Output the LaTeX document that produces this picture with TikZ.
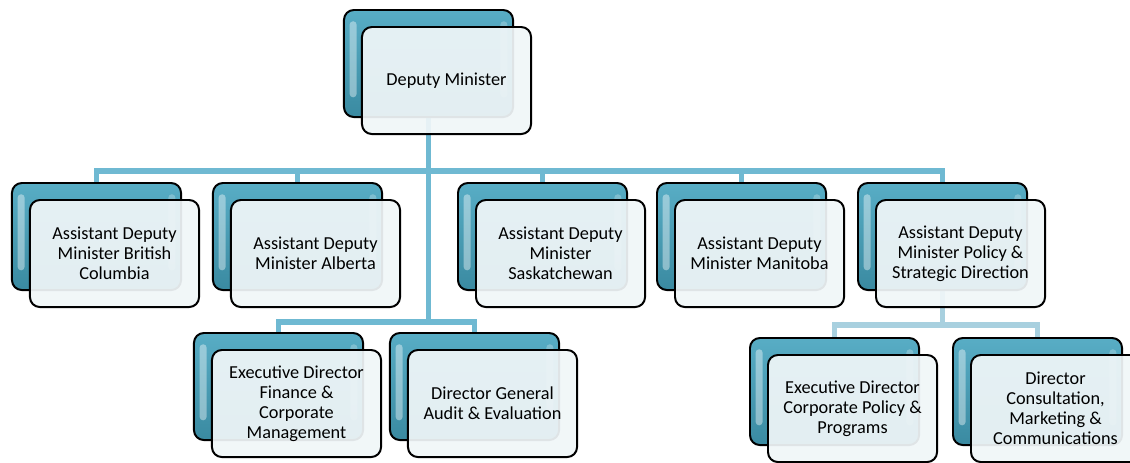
\documentclass[tikz,border=0pt]{standalone}
\usepackage{fontspec}
\setmainfont{Carlito}
\usepackage{tikz}
\usetikzlibrary{positioning,backgrounds}

\definecolor{linkblue}{HTML}{6FB9D2}
\definecolor{sublinkblue}{HTML}{A8D0DF}
\definecolor{tealtop}{HTML}{58ADC5}
\definecolor{tealbot}{HTML}{3A8AA1}
\definecolor{cardfill}{HTML}{F0F6F8}

\begin{document}
\begin{tikzpicture}[
  x=0.025cm, y=-0.025cm,
  plate/.style={draw=black, line width=1.4pt, rounded corners=7pt,
    top color=tealtop, bottom color=tealbot,
    minimum width=4.225cm, minimum height=2.675cm,
    path picture={
      \fill[white, opacity=0.4, rounded corners=2.5pt]
        ([xshift=4pt, yshift=-8pt]path picture bounding box.north west)
        rectangle ([xshift=9pt, yshift=14pt]path picture bounding box.south west);
      \fill[white, opacity=0.25, rounded corners=2.5pt]
        ([xshift=-9pt, yshift=-8pt]path picture bounding box.north east)
        rectangle ([xshift=-4pt, yshift=14pt]path picture bounding box.south east);
    }},
  card/.style={draw=black, line width=1.4pt, rounded corners=7pt,
    fill=cardfill, fill opacity=0.93, text opacity=1,
    minimum width=4.225cm, minimum height=2.675cm, align=center,
    font=\fontsize{13}{14.2}\selectfont},
  link/.style={draw=linkblue, line width=3.6pt},
  sublink/.style={draw=sublinkblue, line width=3.6pt}
]
\useasboundingbox (0,0) rectangle (1130,462);
\clip (0,0) rectangle (1130,462);

%% ─── Deputy Minister ──────────────────────────────────────────────────────
\node[plate] (dm)   at (428.5, 63.5) {};
\node[card]  (dmc)  at (446.5, 80.5) {Deputy Minister};

%% ─── Assistant Deputy Ministers ───────────────────────────────────────────
\node[plate] (bc)   at (96.5, 236.5)  {};
\node[card]  (bcc)  at (114.5, 253.5) {Assistant Deputy\\Minister British\\Columbia};
\node[plate] (ab)   at (297.5, 236.5) {};
\node[card]  (abc)  at (315.5, 253.5) {Assistant Deputy\\Minister Alberta};
\node[plate] (sk)   at (542.5, 236.5) {};
\node[card]  (skc)  at (560.5, 253.5) {Assistant Deputy\\Minister\\Saskatchewan};
\node[plate] (mb)   at (741.5, 236.5) {};
\node[card]  (mbc)  at (759.5, 253.5) {Assistant Deputy\\Minister Manitoba};
\node[plate] (pol)  at (942.5, 236.5) {};
\node[card]  (polc) at (960.5, 253.5) {Assistant Deputy\\Minister Policy \&\\Strategic Direction};

%% ─── Staff reporting to the Deputy ────────────────────────────────────────
\node[plate] (fin)  at (278.5, 386.5) {};
\node[card]  (finc) at (296.5, 403.5) {Executive Director\\Finance \&\\Corporate\\Management};
\node[plate] (aud)  at (474.5, 386.5) {};
\node[card]  (audc) at (492.5, 403.5) {Director General\\Audit \& Evaluation};

%% ─── Policy branch ────────────────────────────────────────────────────────
\node[plate] (cpp)  at (834.5, 391.5)  {};
\node[card]  (cppc) at (852.5, 408.5)  {Executive Director\\Corporate Policy \&\\Programs};
\node[plate] (cmc)  at (1037.5, 391.5) {};
\node[card]  (cmcc) at (1055.5, 408.5) {Director\\Consultation,\\Marketing \&\\Communications};

%% ─── Connectors ───────────────────────────────────────────────────────────
\coordinate (split)    at (428.5, 171);
\coordinate (staff)    at (428.5, 322);
\coordinate (polsplit) at (942.5, 325);
\begin{scope}[on background layer]
  \draw[link] (dm) -- (staff);
  \draw[link] (bc) |- (split) -| (pol);
  \draw[link] (ab) -- (ab |- split);
  \draw[link] (sk) -- (sk |- split);
  \draw[link] (mb) -- (mb |- split);
  \draw[link] (fin) |- (staff) -| (aud);
  \draw[sublink] (pol) -- (polsplit);
  \draw[sublink] (cpp) |- (polsplit) -| (cmc);
\end{scope}
\end{tikzpicture}
\end{document}
